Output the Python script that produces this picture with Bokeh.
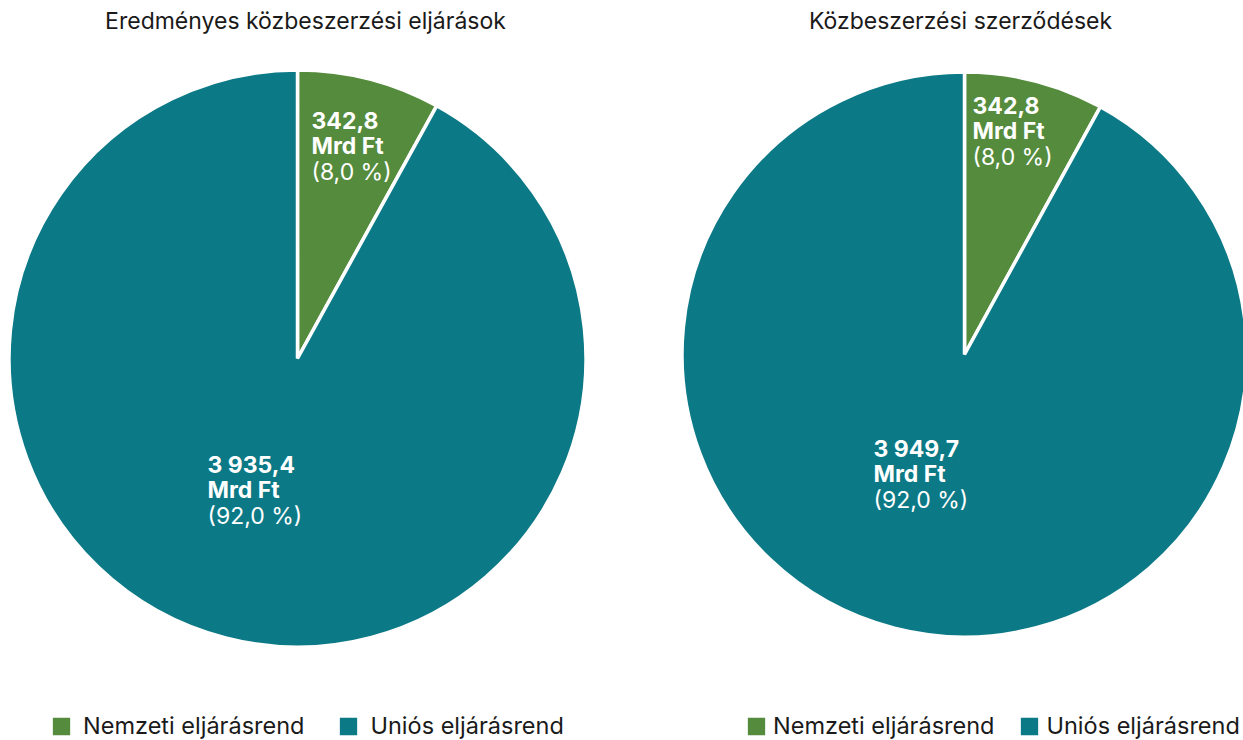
import numpy as np
from bokeh.plotting import figure
from bokeh.models import ColumnDataSource, Legend, LegendItem, Range1d
from bokeh.core.properties import value
from bokeh.embed import file_html
from bokeh.resources import INLINE

# ---------------- data ----------------
titles = ["Eredményes közbeszerzési eljárások", "Közbeszerzési szerződések"]
categories = ["Nemzeti eljárásrend", "Uniós eljárásrend"]
values_left = [342.8, 3935.4]
values_right = [342.8, 3949.7]
unit = "Mrd Ft"
colors = ["#558b3d", "#0c7986"]

# ---------------- layout (pixels) ----------------
W, H = 1243, 740
FONT = "Inter"


def py(page_y):
    # convert pixel y (down) to data y (up)
    return H - page_y


def hu(v):
    s = f"{v:,.1f}"
    return s.replace(",", " ").replace(".", ",")


def hu_pct(v):
    return "(" + f"{v:.1f}".replace(".", ",") + " %)"


p = figure(width=W, height=H, x_range=Range1d(0, W), y_range=Range1d(0, H),
           output_backend="svg", toolbar_location=None, min_border=0,
           x_axis_location=None, y_axis_location=None)
p.grid.visible = False
p.outline_line_color = None
p.background_fill_color = "white"
p.border_fill_color = "white"

pies = [
    dict(values=values_left, cx=297, cy=358, r=288.5, title_x=305,
         label_pos=[(311, 120), (207, 464)], legend_x=48, standoff=9, spacing=31),
    dict(values=values_right, cx=964, cy=354, r=282.5, title_x=960,
         label_pos=[(972, 105), (873, 448)], legend_x=743, standoff=4, spacing=22),
]

for i, pie in enumerate(pies):
    vals = np.array(pie["values"], dtype=float)
    frac = vals / vals.sum()
    cum = np.concatenate([[0], np.cumsum(frac)])
    start = np.pi / 2 - 2 * np.pi * cum[:-1]
    end = np.pi / 2 - 2 * np.pi * cum[1:]
    src = ColumnDataSource(dict(
        x=[pie["cx"]] * len(vals), y=[py(pie["cy"])] * len(vals),
        start=start, end=end, color=colors, cat=categories))
    r = p.wedge(x="x", y="y", radius=pie["r"], start_angle="start", end_angle="end",
                direction="clock", fill_color="color", line_color="white",
                line_width=3.5, source=src)

    # title
    p.text(x=[pie["title_x"]], y=[py(20)], text=[titles[i]], text_font=value(FONT),
           text_font_size="23px", text_color="#1a1a1a", text_align="center",
           text_baseline="middle")

    # slice labels
    lx = [pos[0] for pos in pie["label_pos"]]
    ly = [py(pos[1]) for pos in pie["label_pos"]]
    lsrc = ColumnDataSource(dict(
        x=lx, y=ly,
        v=[hu(v) for v in vals],
        u=[unit] * len(vals),
        pct=[hu_pct(f * 100) for f in frac]))
    common = dict(x="x", y="y", source=lsrc, text_font=value(FONT),
                  text_font_size="23px", text_color="white", text_align="left",
                  text_baseline="middle")
    p.text(text="v", text_font_style="bold", **common)
    p.text(text="u", text_font_style="bold", y_offset=25, **common)
    p.text(text="pct", y_offset=51, **common)

    legend = Legend(
        items=[LegendItem(label=categories[k], renderers=[r], index=k) for k in range(len(vals))],
        location=(pie["legend_x"], 0), orientation="horizontal",
        glyph_width=26, glyph_height=26, label_height=26,
        label_standoff=pie["standoff"], spacing=pie["spacing"], padding=0, margin=0,
        border_line_color=None, background_fill_alpha=0, label_text_font=FONT,
        label_text_font_size="23.5px", label_text_color="#1a1a1a")
    p.add_layout(legend)

open("out.html", "w").write(file_html(p, INLINE))
